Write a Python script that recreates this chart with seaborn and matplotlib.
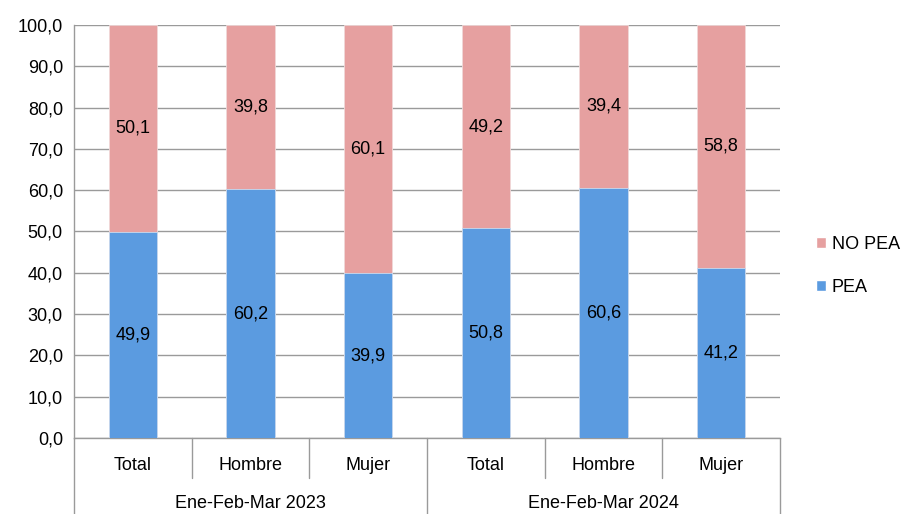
import matplotlib
matplotlib.use("Agg")
import matplotlib.pyplot as plt
import matplotlib.transforms as mtransforms
from matplotlib.patches import Patch
import seaborn as sns
import pandas as pd

# data
categories = ["Total", "Hombre", "Mujer", "Total", "Hombre", "Mujer"]
periods = ["Ene-Feb-Mar 2023", "Ene-Feb-Mar 2024"]
pea = [49.9, 60.2, 39.9, 50.8, 60.6, 41.2]
no_pea = [50.1, 39.8, 60.1, 49.2, 39.4, 58.8]
yticks = [0, 10, 20, 30, 40, 50, 60, 70, 80, 90, 100]

BLUE = "#5B9BE0"
PINK = "#E6A0A0"
GRID = "#9A9A9A"
FS = 13

sns.set_style("white")
plt.rcParams['font.family'] = ['Liberation Sans', 'DejaVu Sans']
plt.rcParams['text.color'] = 'black'
plt.rcParams['ytick.labelcolor'] = 'black'

df = pd.DataFrame({
    "pos": [str(i) for i in range(len(categories))],
    "pea": pea,
    "top": [a + b for a, b in zip(pea, no_pea)],
})

fig = plt.figure(figsize=(9.01, 5.14), dpi=100)
ax = fig.add_axes([74 / 901, 1 - 438 / 514, 706 / 901, 413 / 514])

sns.barplot(data=df, x="pos", y="top", color=PINK, saturation=1, width=0.41,
            edgecolor="#F0D8D8", linewidth=0.6, ax=ax, zorder=2)
sns.barplot(data=df, x="pos", y="pea", color=BLUE, saturation=1, width=0.41,
            edgecolor="#C8DAF0", linewidth=0.6, ax=ax, zorder=3)

ax.set_xlim(-0.5, len(categories) - 0.5)
ax.set_ylim(0, 100)
ax.set_yticks(yticks)
ax.set_yticklabels([f"{v:.1f}".replace(".", ",") for v in yticks], fontsize=FS)
ax.yaxis.grid(True, color=GRID, linewidth=1.0, zorder=0)
ax.set_axisbelow(True)
ax.set_xlabel("")
ax.set_ylabel("")
ax.set_xticks([])

for s in ["top", "right"]:
    ax.spines[s].set_visible(False)
ax.spines["left"].set_color(GRID)
ax.spines["bottom"].set_color(GRID)
ax.spines["left"].set_linewidth(1.0)
ax.spines["bottom"].set_linewidth(1.0)
ax.tick_params(axis="y", length=5, width=1.0, color=GRID, pad=3, labelcolor="black")

# value labels
for i, (p, n) in enumerate(zip(pea, no_pea)):
    ax.text(i, p / 2, f"{p:.1f}".replace(".", ","), ha="center", va="center",
            fontsize=FS, color="black", zorder=5)
    ax.text(i, p + n / 2, f"{n:.1f}".replace(".", ","), ha="center", va="center",
            fontsize=FS, color="black", zorder=5)

# hierarchical x axis
trans = mtransforms.blended_transform_factory(ax.transData, ax.transAxes)
ax_h = 413
for i in range(len(categories) + 1):
    xb = i - 0.5
    depth = -76 / ax_h if i % 3 == 0 else -40 / ax_h
    ax.plot([xb, xb], [0, depth], transform=trans, color=GRID, linewidth=1.0,
            clip_on=False)
for i, c in enumerate(categories):
    ax.text(i, -27 / ax_h, c, transform=trans, ha="center", va="center",
            fontsize=FS, color="black")
for g, per in enumerate(periods):
    ax.text(g * 3 + 1, -66 / ax_h, per, transform=trans, ha="center", va="center",
            fontsize=FS, color="black")

handles = [Patch(facecolor=PINK, label="NO PEA"), Patch(facecolor=BLUE, label="PEA")]
fig.legend(handles=handles, loc="center left", bbox_to_anchor=(800 / 901, 1 - 266 / 514),
           frameon=False, fontsize=FS, handlelength=0.55, handleheight=0.55,
           handletextpad=0.3, labelspacing=1.45, labelcolor="black")

fig.savefig("out.png", dpi=100)
